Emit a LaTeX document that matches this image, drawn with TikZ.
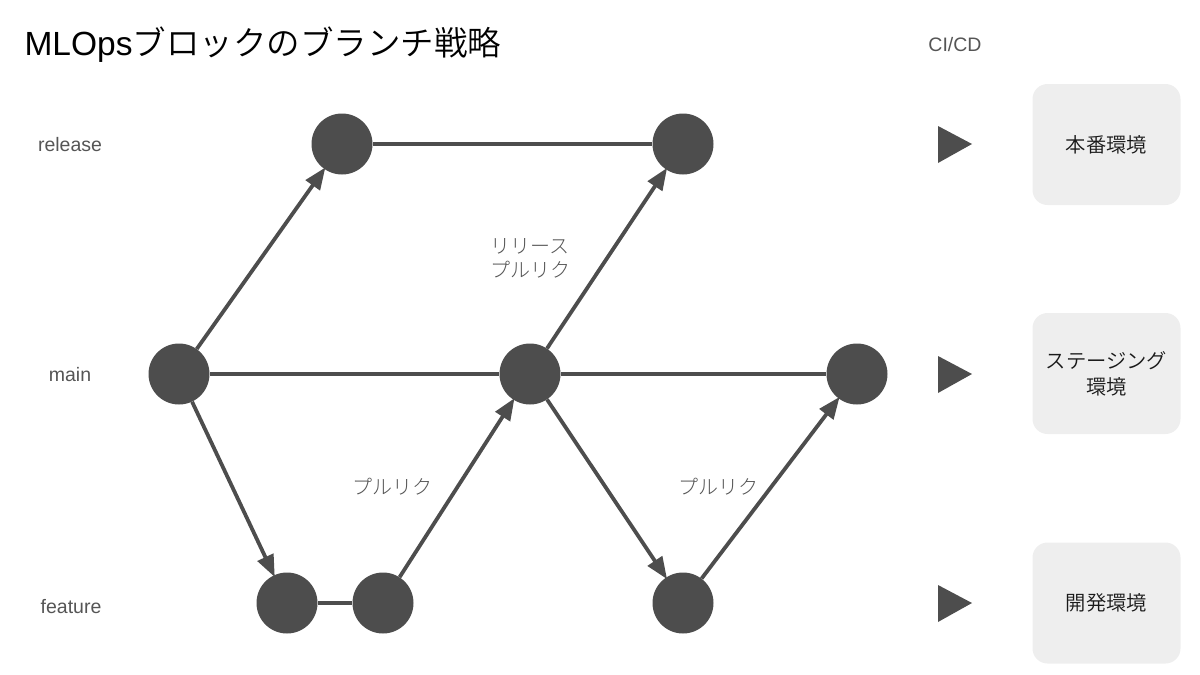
\documentclass[tikz,border=0pt]{standalone}
\usepackage{fontspec}
\setmainfont{Liberation Sans}
\newfontfamily\jp{Noto Sans CJK JP}
\newfontfamily\jpl{Noto Sans CJK JP}[UprightFont={* Light}]
\newfontfamily\jpd{Noto Sans CJK JP}[UprightFont={* DemiLight}]
\usetikzlibrary{arrows.meta}
\definecolor{ink}{HTML}{4D4D4D}
\definecolor{lbl}{HTML}{555555}
\definecolor{boxfill}{HTML}{EEEEEE}
\begin{document}
\begin{tikzpicture}[x=1pt,y=-1pt,
  commit/.style={circle,fill=ink,draw=none,minimum size=61pt,inner sep=0pt},
  link/.style={draw=ink,line width=3.8pt},
  merge/.style={link,-{Triangle[length=22pt,width=17pt]},shorten >=-2pt},
  lane/.style={text=lbl,font=\fontsize{19.5}{22}\selectfont,anchor=center},
  note/.style={text=lbl,font=\jpl\fontsize{20}{24}\selectfont,align=center},
  env/.style={fill=boxfill,draw=none,rounded corners=15pt,minimum width=148pt,minimum height=121pt,font=\jpd\fontsize{20.3}{26}\selectfont,align=center,text=black!90},
  play/.style={fill=ink,draw=none}]
\useasboundingbox (0,0) rectangle (1200,675);
% title
\node[anchor=west,font=\fontsize{33.5}{38}\selectfont] (title) at (21,45) {MLOps{\jpd ブロックのブランチ戦略}};
\node[lane] (cicd) at (955,45) {CI/CD};
% lane labels
\node[lane] (lrel) at (70,145) {release};
\node[lane] (lmain) at (70,375) {main};
\node[lane] (lfeat) at (71,607) {feature};
% commits
\node[commit] (r1) at (342,144) {};
\node[commit] (r2) at (683,144) {};
\node[commit] (m1) at (179,374) {};
\node[commit] (m2) at (530,374) {};
\node[commit] (m3) at (857,374) {};
\node[commit] (f1) at (287,603) {};
\node[commit] (f2) at (383,603) {};
\node[commit] (f3) at (683,603) {};
% connectors
\draw[link] (r1) -- (r2);
\draw[link] (m1) -- (m2);
\draw[link] (m2) -- (m3);
\draw[link] (f1) -- (f2);
\draw[merge] (m1) -- (r1);
\draw[merge] (m2) -- (r2);
\draw[merge] (m1) -- (f1);
\draw[merge] (f2) -- (m2);
\draw[merge] (m2) -- (f3);
\draw[merge] (f3) -- (m3);
% notes
\node[note] (n1) at (530,258) {リリース\\プルリク};
\node[note] (n2) at (392,487) {プルリク};
\node[note] (n3) at (718,487) {プルリク};
% CI/CD triangles
\fill[play] (938,126) -- (972,144) -- (938,163) -- cycle;
\fill[play] (938,356) -- (972,374) -- (938,393) -- cycle;
\fill[play] (938,585) -- (972,603) -- (938,622) -- cycle;
% environments
\node[env] (prod) at (1106.5,144.5) {本番環境};
\node[env] (stg) at (1106.5,373.5) {ステージング\\環境};
\node[env] (dev) at (1106.5,603) {開発環境};
\end{tikzpicture}
\end{document}
